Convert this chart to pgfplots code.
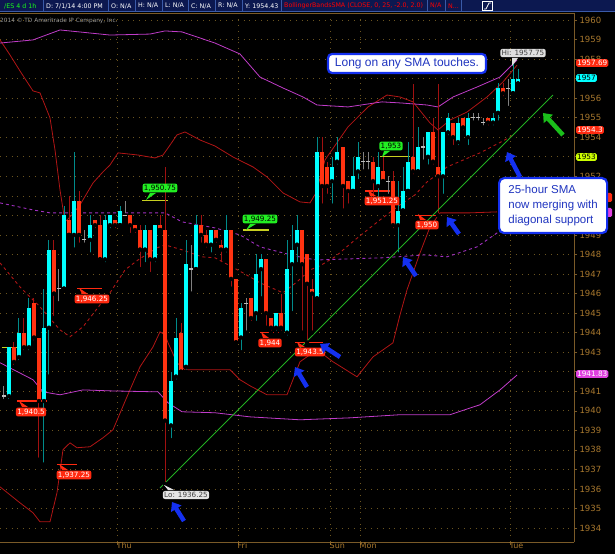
\documentclass[border=0pt]{standalone}
\usepackage{pgfplots}
\pgfplotsset{compat=1.18}
\usepackage{pgfplotstable}
\usepackage{fontspec}
\setmainfont{DejaVu Sans}
\newfontfamily\arial{Liberation Sans}
\usetikzlibrary{arrows.meta}
\definecolor{upc}{HTML}{00FFFF}
\definecolor{upw}{HTML}{008B8B}
\definecolor{dnc}{HTML}{FF3311}
\definecolor{dnw}{HTML}{A01010}
\definecolor{dojic}{HTML}{BBBBBB}
\definecolor{band}{HTML}{B01515}
\definecolor{mag}{HTML}{C03CC8}
\definecolor{magd}{HTML}{A030C0}
\definecolor{gridc}{HTML}{6B5520}
\definecolor{axc}{HTML}{7A5A28}
\definecolor{tickc}{HTML}{A8782E}
\definecolor{hdr}{HTML}{0C1850}
\definecolor{hdrline}{HTML}{3A5AA8}
\definecolor{arrowblue}{HTML}{1430F0}
\definecolor{lblred}{HTML}{FF2A10}
\definecolor{lblgreen}{HTML}{22EE22}
\definecolor{diag}{HTML}{22B022}
\definecolor{yel}{HTML}{C8D020}
\definecolor{boxtext}{HTML}{2035C0}
\definecolor{tagmag}{HTML}{E040E0}
\definecolor{tagyel}{HTML}{CCFF00}

\pgfplotstableread{
x O H L C
9 1940.75 1943.25 1940.5 1943.25
19 1942.75 1944.75 1942.5 1944.0
29 1943.25 1945.75 1943.0 1945.25
44 1940.5 1946.25 1937.25 1944.25
49 1944.25 1948.75 1941.75 1948.25
64 1946.25 1950.5 1946.25 1950.0
74 1949.0 1953.25 1948.25 1950.75
90 1948.75 1950.0 1948.0 1949.5
105 1947.75 1950.0 1947.5 1949.75
110 1949.5 1950.0 1949.25 1950.0
120 1949.5 1950.5 1949.5 1950.25
145 1948.25 1949.5 1947.5 1949.25
155 1947.75 1949.5 1947.5 1949.5
171 1939.25 1942.0 1938.5 1941.5
176 1941.75 1944.75 1941.5 1943.75
186 1942.25 1948.75 1942.0 1947.5
196 1947.25 1950.0 1947.25 1949.5
211 1948.5 1949.25 1948.0 1949.25
226 1948.25 1950.0 1948.0 1949.25
241 1943.75 1945.5 1943.0 1945.25
256 1945.0 1948.0 1944.5 1947.0
261 1947.25 1948.0 1945.75 1947.75
276 1944.25 1945.0 1944.0 1945.0
287 1944.0 1948.75 1943.75 1947.25
292 1947.5 1949.5 1945.0 1948.25
297 1948.5 1950.0 1947.5 1949.25
317 1945.75 1954.0 1945.75 1953.25
332 1951.75 1953.0 1950.5 1952.5
337 1952.75 1954.0 1952.5 1953.25
353 1951.25 1953.0 1951.25 1952.0
358 1952.25 1953.75 1951.75 1953.0
378 1951.5 1953.25 1950.75 1952.5
398 1949.5 1951.75 1948.0 1950.25
403 1950.25 1952.5 1950.25 1951.25
408 1951.25 1953.75 1951.25 1952.75
418 1952.25 1954.5 1952.25 1953.5
428 1953.0 1954.25 1952.5 1954.25
443 1952.0 1954.25 1951.0 1954.25
448 1954.25 1955.25 1954.0 1955.0
458 1953.75 1955.0 1953.5 1954.75
468 1954.0 1955.25 1953.5 1955.0
493 1954.75 1955.25 1954.5 1955.0
498 1955.25 1956.75 1954.75 1956.5
513 1956.25 1957.75 1956.25 1957.0
518 1956.75 1957.5 1956.75 1957.0
}\up

\pgfplotstableread{
x O H L C
14 1943.25 1943.5 1942.25 1942.5
24 1944.0 1944.75 1943.0 1943.25
34 1945.5 1945.75 1943.5 1943.75
39 1943.75 1943.75 1937.5 1940.5
54 1948.25 1948.75 1944.75 1946.0
69 1949.75 1951.0 1949.0 1949.0
79 1950.75 1951.25 1948.5 1949.0
95 1949.75 1949.75 1949.25 1949.5
100 1949.5 1950.0 1947.75 1947.75
115 1949.75 1949.75 1949.25 1949.5
130 1950.0 1950.0 1949.0 1949.5
135 1949.5 1949.5 1949.0 1949.25
140 1949.25 1949.5 1947.25 1948.25
150 1949.25 1949.25 1947.0 1947.75
160 1949.5 1950.0 1949.25 1949.25
165 1949.25 1952.5 1936.25 1939.5
181 1944.0 1944.5 1942.0 1942.0
201 1949.5 1950.0 1948.5 1949.0
206 1949.0 1949.25 1948.25 1948.5
216 1949.25 1949.25 1948.5 1948.75
221 1948.5 1948.75 1947.5 1948.25
231 1949.25 1949.25 1946.25 1946.75
236 1946.75 1946.75 1943.5 1943.5
251 1945.75 1945.75 1944.5 1944.75
266 1947.75 1947.75 1944.25 1945.0
271 1944.75 1944.75 1944.0 1944.25
281 1945.0 1946.0 1944.0 1944.25
302 1949.25 1949.25 1944.0 1947.5
307 1948.0 1948.0 1943.5 1946.5
312 1946.25 1946.75 1944.0 1946.0
322 1953.25 1954.0 1950.5 1951.5
327 1952.5 1952.75 1951.0 1951.5
343 1953.5 1953.5 1950.25 1951.5
348 1951.75 1951.75 1950.5 1951.25
373 1952.75 1953.0 1950.75 1951.75
383 1952.25 1953.0 1951.75 1951.75
393 1951.75 1952.25 1949.25 1949.5
413 1953.0 1956.75 1952.0 1952.25
433 1954.25 1955.0 1952.5 1952.75
438 1952.5 1956.75 1950.0 1952.0
453 1954.75 1954.75 1953.5 1954.0
463 1955.0 1955.0 1954.25 1954.5
488 1955.0 1955.0 1954.5 1954.75
503 1956.5 1956.75 1956.0 1956.25
}\down

\pgfplotstableread{
x O H L C
4 1940.75 1941.25 1940.5 1940.75
59 1946.25 1947.25 1945.5 1946.25
84 1948.75 1949.25 1948.5 1948.75
125 1950.0 1950.75 1950.0 1950.0
191 1947.25 1948.5 1946.0 1947.25
246 1945.5 1945.75 1944.0 1945.5
363 1952.75 1953.25 1952.25 1952.75
368 1952.75 1953.25 1952.25 1952.75
388 1951.75 1952.0 1951.0 1951.75
423 1953.5 1954.0 1952.75 1953.5
473 1955.0 1955.25 1954.75 1955.0
478 1955.0 1955.25 1954.75 1955.0
483 1954.75 1955.0 1954.5 1954.75
508 1956.5 1957.0 1955.5 1956.5
}\doji

\begin{document}
\begin{tikzpicture}
\path[use as bounding box, fill=black] (0pt,0pt) rectangle (615pt,554pt);
\begin{axis}[
  at={(0pt,12pt)}, anchor=south west,
  scale only axis, width=574pt, height=529pt,
  xmin=0, xmax=574, ymin=1933.286, ymax=1960.358,
  axis x line*=bottom, axis y line*=right,
  axis line style={axc, line width=0.8pt},
  ytick={1934,1935,...,1960},
  yticklabels={1934,1935,1936,1937,1938,1939,1940,1941,{},1943,1944,1945,1946,1947,1948,1949,{},{},1952,{},1954,1955,1956,{},1958,1959,1960},
  xtick={117,238,330,360,510},
  xticklabels={Thu,Fri,Sun,Mon,Tue},
  xticklabel style={anchor=north west, xshift=-1pt, yshift=2.8pt, inner sep=0.5pt, text=tickc, font=\fontsize{8}{8.5}\selectfont},
  yticklabel style={text=tickc, font=\fontsize{8.5}{9}\selectfont, xshift=-1pt},
  tick align=outside, major tick length=3pt, tick style={axc, line width=0.6pt},
  grid=major,
  major grid style={gridc, line width=0.7pt, dash pattern=on 0.8pt off 5pt},
  clip=true,
]
% red Bollinger bands (25 SMA)
\addplot[band, line width=0.8pt] coordinates {
(0,1958.98)(10,1958.21)(20,1957.39)(33,1956.37)(40,1956.27)(50,1954.99)(55,1953.35)(60,1951.30)(65,1949.67)(72,1950.03)(80,1950.54)(93,1951.66)(103,1952.23)(110,1952.58)(118,1953.20)(138,1953.09)(155,1952.94)(163,1953.09)(168,1953.45)(177,1954.12)(185,1954.27)(200,1953.86)(215,1953.55)(233,1952.99)(253,1952.48)(267,1951.97)(283,1951.15)(300,1950.69)(310,1950.64)(316,1951.15)(325,1952.84)(348,1954.53)(368,1955.55)(387,1956.16)(400,1956.06)(413,1955.81)(430,1954.73)(438,1954.37)(450,1954.88)(467,1955.29)(487,1956.06)(503,1956.83)(517,1957.69)};
\addplot[band, line width=0.8pt] coordinates {
(0,1936.11)(20,1935.29)(33,1934.78)(40,1934.32)(50,1934.32)(57,1935.81)(63,1938.01)(70,1938.36)(77,1938.11)(90,1938.16)(103,1938.62)(113,1939.03)(127,1940.72)(140,1942.25)(153,1943.27)(160,1944.04)(165,1943.89)(168,1943.48)(177,1942.46)(185,1942.10)(215,1942.10)(230,1942.10)(240,1941.59)(250,1941.28)(267,1940.82)(287,1940.82)(300,1942.51)(317,1943.12)(333,1942.51)(357,1941.74)(373,1942.76)(393,1943.48)(400,1944.91)(407,1946.19)(420,1948.08)(430,1949.41)(440,1950.13)(470,1950.13)(497,1950.18)};
\addplot[band, line width=0.9pt, dash pattern=on 3pt off 3pt] coordinates {
(0,1947.57)(20,1946.34)(40,1945.32)(60,1944.14)(70,1943.79)(83,1944.30)(100,1945.42)(110,1946.04)(125,1947.21)(138,1947.72)(157,1948.34)(165,1948.49)(182,1948.24)(202,1947.88)(215,1947.83)(243,1947.06)(260,1946.55)(283,1946.04)(297,1946.60)(310,1947.21)(320,1947.42)(335,1947.88)(355,1948.75)(380,1949.77)(400,1950.54)(415,1951.05)(427,1951.71)(447,1952.48)(480,1953.20)(503,1953.81)(512,1954.07)};
% magenta bands
\addplot[mag, line width=0.8pt] coordinates {
(0,1958.82)(33,1958.98)(60,1959.49)(110,1959.23)(150,1959.28)(165,1959.44)(182,1959.39)(215,1958.82)(240,1958.26)(260,1957.08)(283,1956.52)(303,1956.06)(317,1955.65)(348,1955.55)(382,1955.81)(402,1955.75)(427,1955.65)(438,1955.55)(453,1956.06)(477,1956.57)(500,1957.08)(517,1957.95)};
\addplot[magd, line width=0.9pt, dash pattern=on 3pt off 3pt] coordinates {
(0,1950.64)(33,1950.28)(50,1950.13)(110,1950.13)(165,1950.13)(182,1949.67)(215,1949.36)(240,1949.00)(260,1948.39)(283,1948.08)(303,1947.83)(317,1947.72)(382,1947.83)(425,1947.98)(447,1947.88)(477,1948.39)(497,1949.10)(517,1949.67)};
\addplot[mag, line width=0.8pt] coordinates {
(0,1942.46)(33,1941.59)(43,1940.97)(60,1940.82)(83,1941.07)(110,1941.02)(158,1940.97)(168,1940.41)(182,1939.95)(215,1939.90)(250,1939.69)(300,1939.54)(350,1939.64)(400,1939.80)(450,1939.80)(480,1940.31)(500,1941.07)(517,1941.83)};
% level lines
\addplot[yel, line width=1.2pt] coordinates {(142,1950.75)(168,1950.75)};
\addplot[yel, line width=1.2pt] coordinates {(243,1949.25)(269,1949.25)};
\addplot[yel, line width=1.2pt] coordinates {(380,1953)(410,1953)};
\addplot[yel, line width=1.2pt] coordinates {(2,1943.25)(20,1943.25)};
\addplot[lblred, line width=1.2pt] coordinates {(77,1946.25)(102,1946.25)};
\addplot[lblred, line width=1.2pt] coordinates {(17,1940.5)(47,1940.5)};
\addplot[lblred, line width=1.2pt] coordinates {(57,1937.25)(77,1937.25)};
\addplot[lblred, line width=1.2pt] coordinates {(365,1951.25)(390,1951.25)};
\addplot[lblred, line width=1.2pt] coordinates {(260,1944)(280,1944)};
\addplot[lblred, line width=1.2pt] coordinates {(295,1943.5)(323,1943.5)};
\addplot[lblred, line width=1.2pt] coordinates {(415,1950)(440,1950)};
% wicks
\addplot[only marks, mark=none, error bars/.cd, y dir=plus, y explicit, error mark=none, error bar style={upw, line width=1pt}]
  table[x=x, y=L, y error plus expr=\thisrow{H}-\thisrow{L}] {\up};
\addplot[only marks, mark=none, error bars/.cd, y dir=plus, y explicit, error mark=none, error bar style={dnw, line width=1pt}]
  table[x=x, y=L, y error plus expr=\thisrow{H}-\thisrow{L}] {\down};
\addplot[only marks, mark=none, error bars/.cd, y dir=plus, y explicit, error mark=none, error bar style={gray, line width=1pt}]
  table[x=x, y=L, y error plus expr=\thisrow{H}-\thisrow{L}] {\doji};
% bodies
\addplot[only marks, mark=none, error bars/.cd, y dir=plus, y explicit, error mark=none, error bar style={upc, line width=4.3pt}]
  table[x=x, y=O, y error plus expr=\thisrow{C}-\thisrow{O}] {\up};
\addplot[only marks, mark=none, error bars/.cd, y dir=plus, y explicit, error mark=none, error bar style={dnc, line width=4.3pt}]
  table[x=x, y=C, y error plus expr=\thisrow{O}-\thisrow{C}] {\down};
\addplot[only marks, mark=-, mark size=2.4pt, mark options={dojic, line width=1.3pt}] table[x=x, y=O] {\doji};
% diagonal support
\addplot[diag, line width=0.9pt] coordinates {(160,1936.05)(553,1956.16)};
\end{axis}

\begin{scope}[x=1pt, y=1pt]
% top border
\draw[axc, line width=0.8pt] (0,541) -- (574,541);
% header
\fill[hdr] (0,542) rectangle (615,554);
\foreach \sx in {43,108,135,162,188,215,242,281,427,445,461} {\draw[hdrline, line width=0.6pt] (\sx,542) -- (\sx,554);}
\draw[hdrline, line width=0.6pt] (0,542.3) -- (615,542.3);
\begin{scope}[every node/.style={anchor=west, inner sep=0pt, font=\fontsize{6.3}{7}\selectfont}]
\node[text=green!90!white] at (4,548) {/ES 4 d 1h};
\node[text=white] at (46,548) {D: 7/1/14 4:00 PM};
\node[text=white] at (111,548) {O: N/A};
\node[text=white] at (138,548) {H: N/A};
\node[text=white] at (165,548) {L: N/A};
\node[text=white] at (191,548) {C: N/A};
\node[text=white] at (218,548) {R: N/A};
\node[text=white] at (245,548) {Y: 1954.43};
\node[text=red] at (284,548) {BollingerBandsSMA (CLOSE, 0, 25, -2.0, 2.0)};
\node[text=red] at (430,548) {N/A};
\node[text=red] at (448,548) {N...};
\end{scope}
\draw[white, fill=hdr, line width=0.6pt] (482,543.5) rectangle (492,552.5);
\draw[white, line width=0.8pt] (484,545) -- (486,545) -- (489,551) -- (491,551);
\node[anchor=west, inner sep=0pt, text=gray!80, font=\fontsize{5.8}{6}\selectfont] at (0,533.5) {2014 \textcopyright{} TD Ameritrade IP Company, Inc.};

% labels
\tikzset{lbl/.style={rounded corners=2pt, inner sep=1.3pt, font=\fontsize{7.2}{8}\selectfont}}
\fill[lblgreen] (150,361) -- (146,354) -- (156,361) -- cycle;
\node[lbl, fill=lblgreen, text=black] at (160,366) {1,950.75};
\fill[lblred] (82,260) -- (79,266) -- (88,260) -- cycle;
\node[lbl, fill=lblred, text=white] at (92,255) {1,946.25};
\fill[lblred] (22,147) -- (19,153) -- (28,147) -- cycle;
\node[lbl, fill=lblred, text=white] at (31,142) {1,940.5};
\fill[lblred] (62,84) -- (59,90) -- (68,84) -- cycle;
\node[lbl, fill=lblred, text=white] at (74,79) {1,937.25};
\fill[gray!20] (168,64) -- (164,69) -- (174,64) -- cycle;
\node[lbl, fill=gray!20, text=black!75] at (186,59) {Lo: 1936.25};
\fill[lblgreen] (250,330) -- (246,324) -- (256,330) -- cycle;
\node[lbl, fill=lblgreen, text=black] at (260,335) {1,949.25};
\fill[lblred] (263,216) -- (261,222) -- (269,216) -- cycle;
\node[lbl, fill=lblred, text=white] at (270,211) {1,944};
\fill[lblred] (299,207) -- (297,212) -- (305,207) -- cycle;
\node[lbl, fill=lblred, text=white] at (310,202) {1,943.5};
\fill[lblred] (370,358) -- (368,364) -- (376,358) -- cycle;
\node[lbl, fill=lblred, text=white] at (382,353) {1,951.25};
\fill[lblgreen] (384,403) -- (382,397) -- (390,403) -- cycle;
\node[lbl, fill=lblgreen, text=black] at (391,408) {1,953};
\fill[lblred] (420,334) -- (418,340) -- (426,334) -- cycle;
\node[lbl, fill=lblred, text=white] at (427,329) {1,950};
\fill[gray!25] (512,496) -- (512,488) -- (518,496) -- cycle;
\node[lbl, fill=gray!25, text=black!75] at (523,501) {Hi: 1957.75};

% price tags on the right axis
\tikzset{tag/.style={anchor=west, rounded corners=1.5pt, inner sep=1pt, font=\fontsize{7.3}{8}\selectfont}}
\fill[lblred, rounded corners=1.5pt] (576,352) rectangle (612,361);
\fill[tagmag, rounded corners=1.5pt] (576,337) rectangle (612,346);
\node[tag, fill=lblred, text=white] at (576,491) {1957.69};
\node[tag, fill=upc, text=black] at (576,476) {1957};
\node[tag, fill=lblred, text=white] at (576,424) {1954.3};
\node[tag, fill=tagyel, text=black] at (576,397) {1953};
\node[tag, fill=tagmag, text=white] at (576,180) {1941.83};

% callouts
\node[draw=arrowblue, line width=2.2pt, rounded corners=4pt, fill=white, text=boxtext,
  font=\arial\fontsize{12}{14}\selectfont, minimum width=158pt, minimum height=19pt, inner sep=2pt] at (407,490.5) {Long on any SMA touches.};
\node[draw=arrowblue, line width=2.2pt, rounded corners=5pt, fill=white, text=boxtext, align=left,
  font=\arial\fontsize{11.5}{15}\selectfont, minimum width=108pt, minimum height=55pt, inner sep=2.5pt, anchor=north west] at (498,377) {25-hour SMA\\now merging with\\diagonal support};

% arrows
\tikzset{barr/.style={arrowblue, line width=4.5pt, -{Triangle[length=8pt,width=12pt]}}}
\draw[barr] (184,33) -- (172,52);
\draw[barr] (307,167) -- (295,187);
\draw[barr] (340,197) -- (320,210);
\draw[barr] (416,278) -- (403,297);
\draw[barr] (459,320) -- (447,337);
\draw[barr] (520,377) -- (507,402);
\draw[lblgreen!80!black, line width=4.5pt, -{Triangle[length=8pt,width=12pt]}] (563,419) -- (543,441);
\end{scope}
\end{tikzpicture}
\end{document}
